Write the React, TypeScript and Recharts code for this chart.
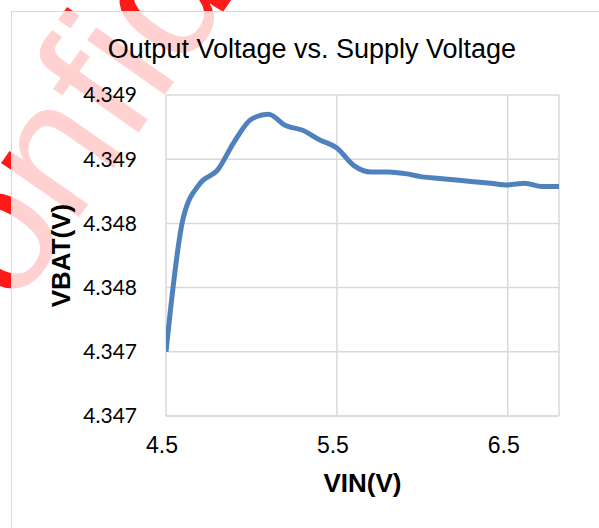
import React from "react";
import { LineChart, Line, XAxis, YAxis, CartesianGrid, Label } from "recharts";

const vin = [4.5, 4.6, 4.7, 4.8, 4.9, 5.0, 5.1, 5.2, 5.3, 5.4, 5.5, 5.6, 5.7, 5.8, 5.9, 6.0, 6.1, 6.2, 6.3, 6.4, 6.5, 6.6, 6.7, 6.8];
const vbat = [4.3474, 4.34823, 4.34845, 4.34853, 4.34871, 4.34885, 4.34888, 4.34881, 4.34878, 4.34872, 4.34867, 4.34856, 4.34852, 4.34852, 4.34851, 4.34849, 4.34848, 4.34847, 4.34846, 4.34845, 4.34844, 4.34845, 4.34843, 4.34843];
const xTicks = [4.5, 5.5, 6.5];
const yTicks = [4.347, 4.3474, 4.3478, 4.3482, 4.3486, 4.349];
const title = "Output Voltage vs. Supply Voltage";
const xTitle = "VIN(V)";
const yTitle = "VBAT(V)";
const watermark = "Confidential";

const data = vin.map((v, i) => ({ vin: v, vbat: vbat[i] }));

export default function App() {
  return (
    <div style={{ position: "fixed", left: 0, top: 0, width: 599, height: 528, overflow: "hidden", background: "#fff" }}>
      <svg width={599} height={528} style={{ position: "absolute", left: 0, top: 0 }}>
        <text
          x={-60}
          y={416}
          transform="rotate(-55 -60 416)"
          fontFamily="Liberation Sans, Arial, sans-serif"
          fontSize={180}
          fill="#ff1a1a"
        >
          {watermark}
        </text>
      </svg>
      <div
        style={{
          position: "absolute",
          left: 11,
          top: 11,
          width: 620,
          height: 560,
          border: "1.5px solid #d9d9d9",
          background: "rgba(255,255,255,0.8)",
        }}
      />
      <div style={{ position: "absolute", left: 0, top: 0 }}>
        <LineChart width={599} height={528} data={data} margin={{ top: 95, right: 40, bottom: 52, left: 0 }}>
          <CartesianGrid stroke="#d9d9d9" strokeWidth={1.5} vertical={true} horizontal={true} />
          <XAxis
            dataKey="vin"
            type="number"
            domain={[4.5, 6.8]}
            ticks={xTicks}
            allowDataOverflow
            height={60}
            tickLine={false}
            tickSize={0}
            tickMargin={21}
            axisLine={{ stroke: "#d9d9d9", strokeWidth: 1.5 }}
            tick={{ fill: "#000", fontSize: 23, fontFamily: "Liberation Sans, Arial, sans-serif", dx: -4 }}
            tickFormatter={(v: number) => v.toFixed(1)}
          >
            <Label
              value={xTitle}
              position="bottom"
              offset={-2}
              style={{ fill: "#000", fontSize: 26, fontWeight: "bold", fontFamily: "Liberation Sans, Arial, sans-serif" }}
            />
          </XAxis>
          <YAxis
            type="number"
            domain={[4.347, 4.349]}
            ticks={yTicks}
            allowDataOverflow
            width={166}
            tickLine={false}
            tickSize={0}
            tickMargin={29}
            axisLine={false}
            tick={{ fill: "#000", fontSize: 21, fontFamily: "Lato, sans-serif" }}
            tickFormatter={(v: number) => v.toFixed(3)}
          >
            <Label
              value={yTitle}
              angle={-90}
              position="left"
              offset={-61}
              style={{ fill: "#000", fontSize: 26, fontWeight: "bold", fontFamily: "Liberation Sans, Arial, sans-serif", textAnchor: "middle" }}
            />
          </YAxis>
          <Line
            type="monotone"
            dataKey="vbat"
            stroke="#4F81BD"
            strokeWidth={5}
            dot={false}
            isAnimationActive={false}
          />
        </LineChart>
      </div>
      <svg width={599} height={528} style={{ position: "absolute", left: 0, top: 0, pointerEvents: "none" }}>
        <text x={312} y={58} textAnchor="middle" fontFamily="Liberation Sans, Arial, sans-serif" fontSize={27} fill="#000">
          {title}
        </text>
      </svg>
    </div>
  );
}
